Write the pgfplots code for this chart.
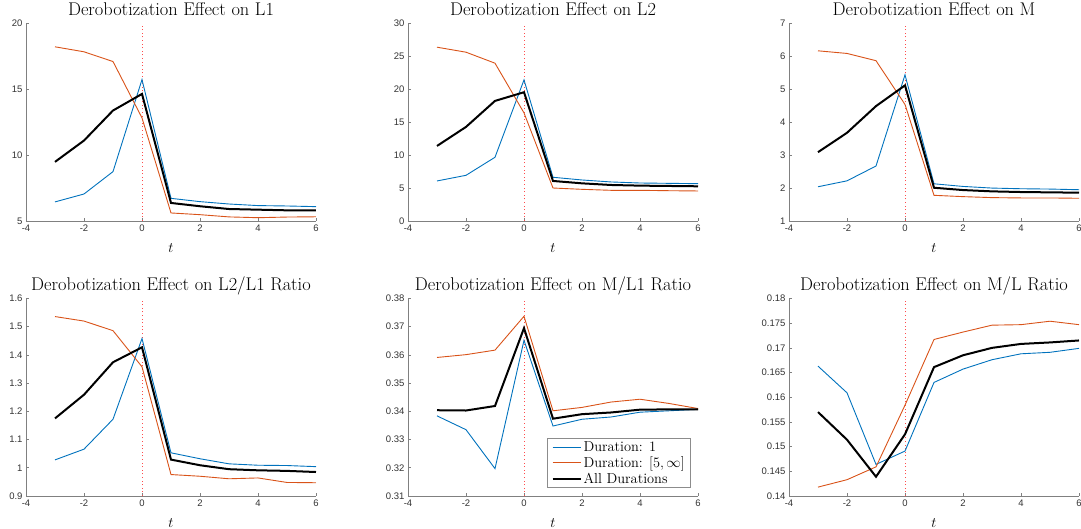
\documentclass[border=0pt]{standalone}
\usepackage{fontspec}
\usepackage{pgfplots}
\usepackage{pgfplotstable}
\pgfplotsset{compat=1.18}
\newfontfamily\ticksf{Liberation Sans}

\definecolor{mblue}{rgb}{0,0.447,0.741}
\definecolor{morange}{rgb}{0.85,0.325,0.098}
\definecolor{axgray}{gray}{0.5}
\definecolor{lblgray}{gray}{0.2}
\definecolor{zeroline}{rgb}{1,0.3,0.3}

% t, duration 1, duration [5,inf), all durations
\pgfplotstableread{
t  d1    d5    all
-3 6.45  18.23 9.49
-2 7.05  17.85 11.11
-1 8.75  17.11 13.39
0  15.74 12.83 14.65
1  6.72  5.61  6.37
2  6.47  5.48  6.12
3  6.29  5.31  5.91
4  6.17  5.25  5.86
5  6.14  5.30  5.81
6  6.09  5.32  5.81
}\tabLone
\pgfplotstableread{
t  d1    d5    all
-3 6.08  26.40 11.40
-2 6.94  25.64 14.29
-1 9.68  23.97 18.24
0  21.43 16.42 19.56
1  6.64  5.01  6.08
2  6.23  4.81  5.72
3  5.93  4.66  5.47
4  5.77  4.66  5.37
5  5.72  4.60  5.32
6  5.67  4.56  5.27
}\tabLtwo
\pgfplotstableread{
t  d1    d5    all
-3 2.04  6.17  3.09
-2 2.22  6.09  3.68
-1 2.67  5.87  4.49
0  5.44  4.54  5.12
1  2.13  1.78  2.01
2  2.05  1.74  1.94
3  2.00  1.71  1.90
4  1.98  1.70  1.88
5  1.97  1.70  1.87
6  1.95  1.69  1.86
}\tabM
\pgfplotstableread{
t  d1    d5    all
-3 1.028 1.536 1.175
-2 1.066 1.520 1.259
-1 1.172 1.486 1.374
0  1.458 1.358 1.427
1  1.053 0.976 1.029
2  1.032 0.970 1.009
3  1.014 0.961 0.995
4  1.009 0.964 0.991
5  1.008 0.948 0.989
6  1.004 0.947 0.985
}\tabLratio
\pgfplotstableread{
t  d1     d5     all
-3 0.3384 0.3591 0.3404
-2 0.3335 0.3601 0.3403
-1 0.3197 0.3617 0.3419
0  0.3652 0.3737 0.3695
1  0.3348 0.3402 0.3374
2  0.3372 0.3414 0.3390
3  0.3380 0.3433 0.3396
4  0.3397 0.3443 0.3406
5  0.3402 0.3428 0.3407
6  0.3407 0.3410 0.3407
}\tabMLone
\pgfplotstableread{
t  d1     d5     all
-3 0.1663 0.1418 0.1570
-2 0.1609 0.1433 0.1514
-1 0.1464 0.1459 0.1439
0  0.1491 0.1584 0.1525
1  0.1630 0.1717 0.1661
2  0.1657 0.1732 0.1685
3  0.1676 0.1746 0.1700
4  0.1688 0.1747 0.1708
5  0.1691 0.1754 0.1711
6  0.1699 0.1747 0.1715
}\tabML

\pgfplotsset{
  panel/.style={
    scale only axis, width=290pt, height=197.5pt,
    axis lines=left, axis line style={-, draw=axgray, line width=0.7pt},
    tick align=inside, major tick length=3pt,
    tick style={draw=axgray, line width=0.7pt},
    xmin=-4, xmax=6, xtick={-4,-2,0,2,4,6},
    ticklabel style={font=\ticksf\fontsize{9.5}{11}\selectfont, text=lblgray},
    /pgf/number format/assume math mode=true,
    /pgf/number format/fixed, /pgf/number format/precision=3,
    scaled y ticks=false,
    xlabel={$t$},
    xlabel style={font=\fontsize{13.5}{15}\selectfont, at={(0.5,0)}, anchor=base, yshift=-32pt},
    title style={font=\fontsize{18.4}{21}\selectfont, at={(0.5,1)}, anchor=base, yshift=2pt},
    clip=false,
  },
  zero/.style={zeroline, line width=0.8pt, dash pattern=on 1pt off 2.6pt, forget plot},
  done/.style={mblue, line width=0.9pt},
  dfive/.style={morange, line width=0.9pt},
  dall/.style={black, line width=2pt},
}

\begin{document}
\begin{tikzpicture}
\path[use as bounding box] (0pt,0pt) rectangle (1081pt,529pt);

\begin{axis}[panel, at={(26pt,308pt)}, anchor=south west,
  ymin=5, ymax=20, ytick={5,10,15,20},
  title={Derobotization Effect on L1}]
  \addplot[zero] coordinates {(0,5) (0,20)};
  \addplot[done] table[x=t,y=d1] {\tabLone};
  \addplot[dfive] table[x=t,y=d5] {\tabLone};
  \addplot[dall] table[x=t,y=all] {\tabLone};
\end{axis}

\begin{axis}[panel, at={(408pt,308pt)}, anchor=south west,
  ymin=0, ymax=30, ytick={0,5,10,15,20,25,30},
  title={Derobotization Effect on L2}]
  \addplot[zero] coordinates {(0,0) (0,30)};
  \addplot[done] table[x=t,y=d1] {\tabLtwo};
  \addplot[dfive] table[x=t,y=d5] {\tabLtwo};
  \addplot[dall] table[x=t,y=all] {\tabLtwo};
\end{axis}

\begin{axis}[panel, at={(789pt,308pt)}, anchor=south west,
  ymin=1, ymax=7, ytick={1,2,3,4,5,6,7},
  title={Derobotization Effect on M}]
  \addplot[zero] coordinates {(0,1) (0,7)};
  \addplot[done] table[x=t,y=d1] {\tabM};
  \addplot[dfive] table[x=t,y=d5] {\tabM};
  \addplot[dall] table[x=t,y=all] {\tabM};
\end{axis}

\begin{axis}[panel, at={(26pt,33pt)}, anchor=south west,
  ymin=0.9, ymax=1.6, ytick={0.9,1,1.1,1.2,1.3,1.4,1.5,1.6},
  title={Derobotization Effect on L2/L1 Ratio}]
  \addplot[zero] coordinates {(0,0.9) (0,1.6)};
  \addplot[done] table[x=t,y=d1] {\tabLratio};
  \addplot[dfive] table[x=t,y=d5] {\tabLratio};
  \addplot[dall] table[x=t,y=all] {\tabLratio};
\end{axis}

\begin{axis}[panel, at={(408pt,33pt)}, anchor=south west,
  ymin=0.31, ymax=0.38, ytick={0.31,0.32,0.33,0.34,0.35,0.36,0.37,0.38},
  title={Derobotization Effect on M/L1 Ratio},
  legend style={at={(0.976,0.04)}, anchor=south east, draw=black!45,
    line width=0.6pt, font=\fontsize{14.4}{16}\selectfont, fill=white,
    inner xsep=4pt, inner ysep=1pt, /tikz/every even column/.style={column sep=4pt}},
  legend cell align=left,
  legend image code/.code={\draw[#1] (0pt,0pt) -- (28pt,0pt);}]
  \addplot[zero] coordinates {(0,0.31) (0,0.38)};
  \addplot[done] table[x=t,y=d1] {\tabMLone};
  \addplot[dfive] table[x=t,y=d5] {\tabMLone};
  \addplot[dall] table[x=t,y=all] {\tabMLone};
  \legend{Duration: 1, {Duration: $[5,\infty]$}, All Durations}
\end{axis}

\begin{axis}[panel, at={(789pt,33pt)}, anchor=south west,
  ymin=0.14, ymax=0.18, ytick={0.14,0.145,0.15,0.155,0.16,0.165,0.17,0.175,0.18},
  title={Derobotization Effect on M/L Ratio}]
  \addplot[zero] coordinates {(0,0.14) (0,0.18)};
  \addplot[done] table[x=t,y=d1] {\tabML};
  \addplot[dfive] table[x=t,y=d5] {\tabML};
  \addplot[dall] table[x=t,y=all] {\tabML};
\end{axis}
\end{tikzpicture}
\end{document}
